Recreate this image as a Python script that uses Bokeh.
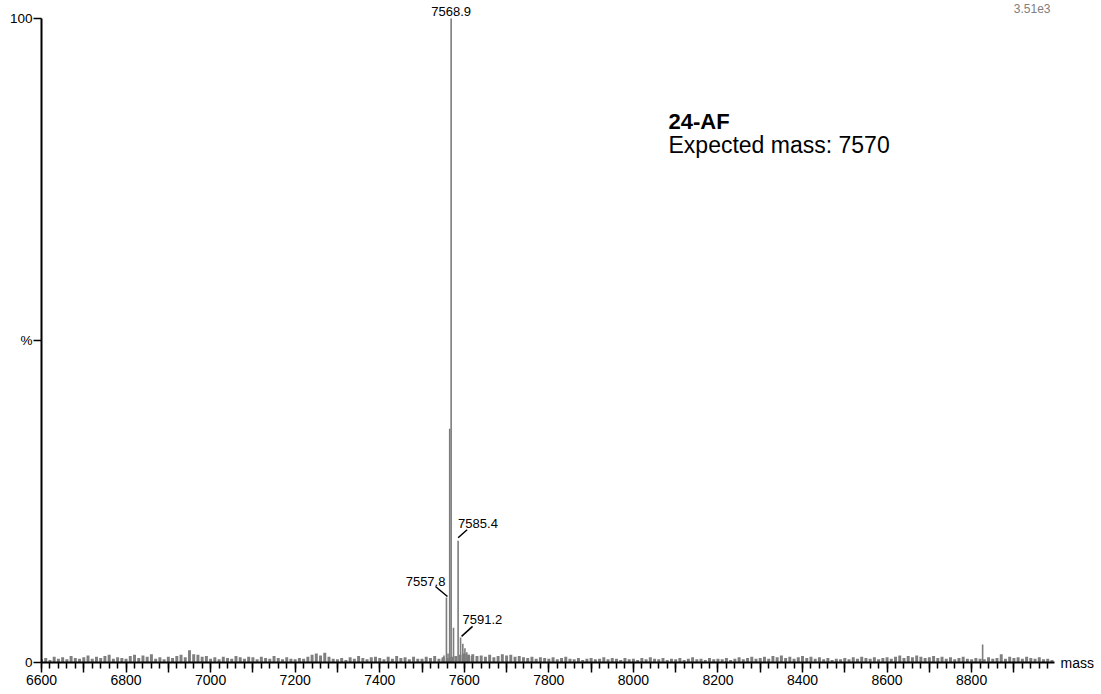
import numpy as np
from bokeh.plotting import figure
from bokeh.models import Range1d, FixedTicker, LinearAxis
from bokeh.core.properties import value
from bokeh.embed import file_html
from bokeh.resources import INLINE

# ---------------- data ----------------
noise_start = 6600
noise_step = 10
noise_pct = [
    0.5, 0.7, 0.4, 0.9, 0.6, 0.8, 0.5, 1.0, 0.7, 0.6,   # 6600
    0.8, 1.1, 0.6, 0.9, 0.7, 1.0, 1.2, 0.6, 0.8, 0.7,   # 6700
    0.6, 1.0, 1.2, 0.7, 1.1, 0.9, 1.3, 0.6, 0.8, 0.5,   # 6800
    0.9, 0.7, 1.0, 1.2, 0.8, 1.9, 1.3, 1.2, 0.9, 1.0,   # 6900
    0.6, 0.8, 0.5, 0.9, 0.7, 0.6, 1.0, 0.8, 0.6, 0.9,   # 7000
    0.8, 0.5, 0.9, 0.7, 0.6, 1.0, 0.7, 0.5, 0.8, 0.6,   # 7100
    0.5, 0.7, 0.6, 0.9, 1.2, 1.4, 1.1, 1.5, 0.9, 0.6,   # 7200
    0.5, 0.7, 0.4, 0.8, 0.6, 1.0, 0.7, 0.5, 0.8, 0.9,   # 7300
    0.7, 0.5, 0.9, 0.6, 1.0, 0.7, 0.8, 0.5, 0.9, 0.6,   # 7400
    0.6, 0.9, 0.7, 1.0, 0.6, 0.8, 0.7, 0.9, 1.0, 1.2,   # 7500
    1.4, 1.2, 1.3, 1.0, 1.1, 0.9, 1.2, 0.8, 1.0, 1.3,   # 7600
    1.1, 1.2, 0.9, 1.0, 0.8, 0.7, 0.9, 0.6, 0.8, 0.7,   # 7700
    0.6, 0.8, 0.5, 0.7, 0.9, 0.6, 0.5, 0.7, 0.4, 0.6,   # 7800
    0.7, 0.5, 0.6, 0.8, 0.5, 0.7, 0.6, 0.4, 0.7, 0.5,   # 7900
    0.6, 0.4, 0.7, 0.5, 0.8, 0.6, 0.5, 0.7, 0.4, 0.6,   # 8000
    0.5, 0.7, 0.4, 0.6, 0.8, 0.5, 0.6, 0.4, 0.7, 0.5,   # 8100
    0.6, 0.5, 0.7, 0.4, 0.6, 0.8, 0.5, 0.7, 0.9, 0.6,   # 8200
    0.7, 0.9, 0.6, 1.0, 0.8, 1.1, 0.7, 0.9, 0.6, 0.8,   # 8300
    1.0, 0.7, 0.9, 0.6, 0.8, 0.5, 0.7, 0.4, 0.6, 0.5,   # 8400
    0.7, 0.5, 0.8, 0.6, 0.9, 0.7, 0.6, 0.8, 0.5, 0.7,   # 8500
    0.8, 0.6, 0.9, 1.1, 0.7, 1.0, 0.8, 1.1, 0.9, 0.7,   # 8600
    0.8, 1.0, 0.7, 0.9, 0.6, 0.8, 0.5, 0.7, 0.9, 0.6,   # 8700
    0.5, 0.7, 0.6, 0.5, 0.8, 0.6, 0.7, 1.3, 0.6, 0.9,   # 8800
    0.7, 0.8, 0.6, 0.9, 0.7, 0.6, 0.8, 0.5, 0.6, 0.4,   # 8900
]

peak_mass = [7548.0, 7552.0, 7557.8, 7561.5, 7565.5, 7568.9, 7574.5,
             7585.4, 7591.2, 7596.5, 7601.5, 7606.0, 7611.0, 7617.0, 8826.0]
peak_pct = [0.6, 1.1, 10.1, 1.4, 36.3, 100.0, 5.4,
            18.9, 3.9, 2.9, 2.2, 1.6, 1.2, 1.0, 2.8]

label_mass = [7557.8, 7568.9, 7585.4, 7591.2]

x_major_ticks = [6600, 6700, 6800, 6900, 7000, 7100, 7200, 7300, 7400, 7500,
                 7600, 7700, 7800, 7900, 8000, 8100, 8200, 8300, 8400, 8500,
                 8600, 8700, 8800, 8900]
x_tick_labels = ["6600", "6800", "7000", "7200", "7400", "7600", "7800",
                 "8000", "8200", "8400", "8600", "8800"]
y_ticks = [0, 50, 100]
y_tick_labels = ["0", "%", "100"]

base_peak_intensity = "3.51e3"
sample_name = "24-AF"
expected_text = "Expected mass: 7570"
x_axis_title = "mass"

# ---------------- figure ----------------
W, H = 1101, 694
LEFT, RIGHT, BOTTOM = 41, 47, 32
x_start, x_end = 6600, 8996
y_start, y_end = 0, 102.8
frame_w = W - LEFT - RIGHT
frame_h = H - BOTTOM
px_x = frame_w / (x_end - x_start)
px_y = frame_h / (y_end - y_start)

p = figure(width=W, height=H, x_range=Range1d(x_start, x_end),
           y_range=Range1d(y_start, y_end), output_backend="svg",
           toolbar_location=None, min_border_left=LEFT,
           min_border_right=RIGHT, min_border_top=0,
           min_border_bottom=BOTTOM)
p.outline_line_color = None
p.grid.visible = False
p.background_fill_color = "white"

FONT = "Liberation Sans"

# spectrum
noise_mass = noise_start + noise_step * np.arange(len(noise_pct))
p.vbar(x=noise_mass, top=noise_pct, bottom=0, width=7,
       fill_color="#7f7f7f", line_color=None)
p.segment(x0=peak_mass, y0=[0] * len(peak_mass), x1=peak_mass, y1=peak_pct,
          line_color="#7d7d7d", line_width=1.6)

# x axis
xa = p.xaxis[0]
xa.ticker = FixedTicker(ticks=x_major_ticks,
                        minor_ticks=list(range(6600, 9000, 20)))
overrides = {}
for t in x_major_ticks:
    overrides[t] = str(t) if str(t) in x_tick_labels else ""
xa.major_label_overrides = overrides
xa.axis_line_width = 2
xa.axis_line_color = "black"
xa.major_tick_in = 0
xa.major_tick_out = 10
xa.minor_tick_in = 0
xa.minor_tick_out = 6
xa.major_tick_line_width = 1.5
xa.minor_tick_line_width = 1.5
xa.major_tick_line_color = "black"
xa.minor_tick_line_color = "black"
xa.major_label_standoff = 2
xa.major_label_text_font = FONT
xa.major_label_text_font_size = "14px"
xa.major_label_text_color = "black"

# y axis
ya = p.yaxis[0]
ya.ticker = FixedTicker(ticks=y_ticks, minor_ticks=[])
ya.major_label_overrides = {t: l for t, l in zip(y_ticks, y_tick_labels)}
ya.bounds = (0, 100)
ya.axis_line_width = 2
ya.axis_line_color = "black"
ya.major_tick_in = 0
ya.major_tick_out = 8
ya.major_tick_line_width = 1.5
ya.major_tick_line_color = "black"
ya.minor_tick_line_color = None
ya.major_label_standoff = 1
ya.major_label_text_font = FONT
ya.major_label_text_font_size = "13.5px"
ya.major_label_text_color = "black"

# "mass" title at the right end of the x axis, via a bare right-side axis
ra = LinearAxis(ticker=FixedTicker(ticks=[0], minor_ticks=[]),
                major_label_overrides={0: x_axis_title})
ra.axis_line_color = None
ra.major_tick_line_color = None
ra.minor_tick_line_color = None
ra.major_tick_in = 0
ra.major_tick_out = 0
ra.major_label_standoff = 6
ra.major_label_text_font = FONT
ra.major_label_text_font_size = "14px"
ra.major_label_text_color = "black"
p.add_layout(ra, "right")

# peak labels with leader lines (offsets in screen pixels, dy positive = down)
peak_lookup = dict(zip(peak_mass, peak_pct))
label_style = {
    7557.8: (-1, -11, "right", (-11, -11), (1, -1)),
    7568.9: (0, -3, "center", None, None),
    7585.4: (0, -13, "left", (0, -3), (9, -11)),
    7591.2: (2, -13, "left", (1, -1), (12, -11)),
}
for m in label_mass:
    h = peak_lookup[m]
    dx, dy, align, l0, l1 = label_style[m]
    p.text(x=[m], y=[h], text=[f"{m:.1f}"], x_offset=dx, y_offset=dy,
           text_align=align, text_baseline="bottom",
           text_font=value(FONT), text_font_size="13px", text_color="black")
    if l0 is not None:
        p.segment(x0=[m + l0[0] / px_x], y0=[h - l0[1] / px_y],
                  x1=[m + l1[0] / px_x], y1=[h - l1[1] / px_y],
                  line_color="black", line_width=1.5)

p.text(x=[x_end], y=[y_end], text=[base_peak_intensity], x_offset=-4,
       y_offset=3, text_align="right", text_baseline="top",
       text_font=value(FONT), text_font_size="12px", text_color="#808080")

name_x = 8083
p.text(x=[name_x], y=[(frame_h - 121) / px_y], text=[sample_name],
       text_align="left", text_baseline="alphabetic",
       text_font=value(FONT), text_font_size="22px", text_font_style="bold",
       text_color="black")
p.text(x=[name_x], y=[(frame_h - 144) / px_y], text=[expected_text],
       text_align="left", text_baseline="alphabetic",
       text_font=value(FONT), text_font_size="23px", text_color="black")

open("out.html", "w").write(file_html(p, INLINE))
